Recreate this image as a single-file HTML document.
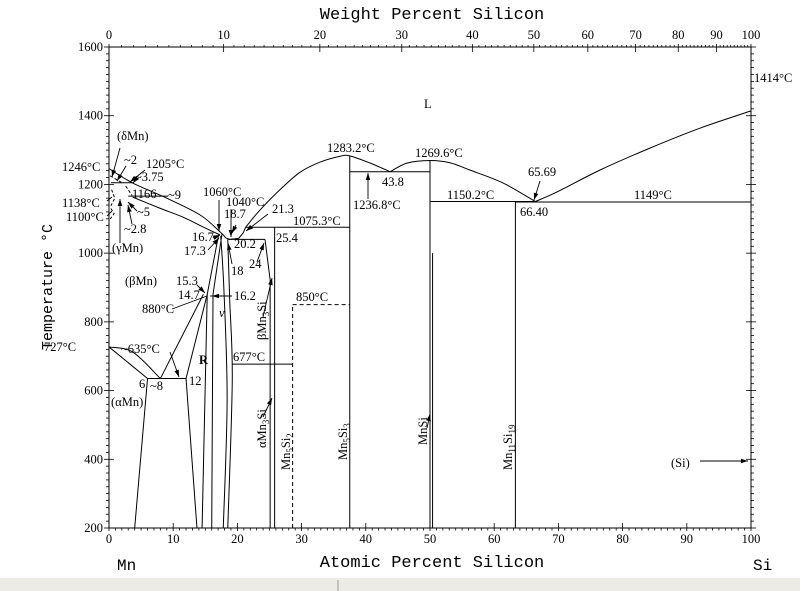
<!DOCTYPE html>
<html><head><meta charset="utf-8"><style>
html,body{margin:0;padding:0;background:#fff;width:800px;height:591px;overflow:hidden}
svg{display:block}
text{font-family:"Liberation Serif",serif;fill:#000}
.t{font-size:12.5px}
.m{font-family:"Liberation Mono",monospace}
</style></head><body>
<svg id="chart" width="800" height="591" viewBox="0 0 800 591" xmlns="http://www.w3.org/2000/svg">
<rect x="0" y="578" width="800" height="13" fill="#ecebe6"/>
<line x1="338" y1="580" x2="338" y2="591" stroke="#999"/>
<g id="axes"></g><g id="curves"></g><g id="notes"></g>
</svg>
<script>
// ---- data (atomic % Si, temperature °C) ----
const xTicks = [0,10,20,30,40,50,60,70,80,90,100];
const wtTicks = [0,10,20,30,40,50,60,70,80,90,100];
const yTicks = [200,400,600,800,1000,1200,1400,1600];
const liquidusLeft = [[0,1246],[3.7,1204],[9,1160],[14.2,1111],[17.3,1062],[18.2,1044],[18.8,1040],[20.2,1043],[20.9,1059],[21.3,1076]];
const liquidusMid = [[21.3,1076],[23.5,1125],[26.6,1184],[29.8,1236],[32.9,1265],[36,1282],[37.5,1283.2],[40.7,1262],[43.8,1236.8],[46.4,1262],[50,1269.6],[53.1,1263],[56.2,1242],[61.4,1204],[66.4,1150.2]];
const liquidusRight = [[66.4,1150.2],[70,1180],[76.5,1242],[84.3,1306],[92.1,1364],[100,1414]];
const solidusLeft = [[3.7,1163],[7.9,1131],[11.5,1105],[15,1073],[17.3,1053]];
const betaLeft1 = [[0,727],[6,635]];
const betaLeft2 = [[0,727],[3.7,712],[8,635]];
const alphaBound = [[6,635],[4,200]];
const rLeft = [[8,635],[14.7,880]];
const rRight = [[12,635],[15.3,880]];
const rLow = [[12,635],[13.7,200]];
const lineB = [[14.5,200],[15.3,880],[17.1,1056]];
const lineC = [[16,200],[16.2,880],[17.6,1056]];
const lineD = [[17.8,200],[18.4,573],[17.9,893],[17.4,1050]];
const lineE = [[18.5,200],[19.2,631],[18.8,864],[18.5,1040]];
const lineF = [[24.3,1040],[25.1,922],[25.1,200]];
const lineG = [[25.8,1075.3],[25.8,200]];
const isotherms = [[0.3,3.75,1205],[3,9.2,1166],[6,12,635],[18.5,24.3,1040],[21.3,37.5,1075.3],[19.2,28.6,677],[37.5,50,1236.8],[50,66.4,1150.2],[63.3,100,1149]];
const compounds = [[37.5,1283.2],[50,1269.6],[50.4,1000],[63.3,1150.2]];
const dashedIso = [[28.6,37.5,850]];
const dashedVert = [[28.6,850]];
const dashedLeft = [[[0.2,1225],[2,1205]],[[0.4,1185],[0.9,1160],[0.3,1138]],[[2.6,1195],[3.6,1168]],[[0.3,1130],[0.8,1115],[0.2,1100]]];

// ---- scales ----
const X0=109,X1=751,Y0=528,Y1=47,T0=200,T1=1600;
function sx(a){return X0+(X1-X0)*a/100;}
function sy(t){return Y0-(Y0-Y1)*(t-T0)/(T1-T0);}
function wt2at(w){const s=w/28.086,m=(100-w)/54.938;return w>=100?100:100*s/(s+m);}
const NS="http://www.w3.org/2000/svg";
function mk(tag,attrs,parent){const e=document.createElementNS(NS,tag);for(const k in attrs)e.setAttribute(k,attrs[k]);parent.appendChild(e);return e;}
const axes=document.getElementById('axes'),curves=document.getElementById('curves'),notes=document.getElementById('notes');

let fr=mk('rect',{x:X0,y:Y1,width:X1-X0,height:Y0-Y1,fill:'none',stroke:'#000','stroke-width':1},axes);


for(let a=0;a<=100;a+=1){const maj=a%10===0;const l=mk('line',{x1:sx(a),x2:sx(a),y1:Y0-(maj?5:0),y2:Y0+(maj?3:2.5),stroke:'#000','stroke-width':0.8},axes);

}
xTicks.forEach(a=>{const t=mk('text',{x:sx(a),y:543,'text-anchor':'middle',class:'t'},axes);t.textContent=a;

});
for(let w=0;w<=100;w+=1){const maj=w%10===0;const l=mk('line',{x1:sx(wt2at(w)),x2:sx(wt2at(w)),y1:Y1-(maj?3:2),y2:Y1+(maj?5:0),stroke:'#000','stroke-width':0.8},axes);

}
wtTicks.forEach(w=>{const t=mk('text',{x:sx(wt2at(w)),y:39,'text-anchor':'middle',class:'t'},axes);t.textContent=w;

});
for(let T=200;T<=1600;T+=20){const maj=T%200===0;
const l=mk('line',{x1:X0-(maj?5:3),x2:X0+(maj?5:0),y1:sy(T),y2:sy(T),stroke:'#000','stroke-width':0.8},axes);


const r=mk('line',{x1:X1-(maj?5:0),x2:X1+(maj?5:3),y1:sy(T),y2:sy(T),stroke:'#000','stroke-width':0.8},axes);

}
yTicks.forEach(T=>{const t=mk('text',{x:X0-6,y:sy(T)+4,'text-anchor':'end',class:'t'},axes);t.textContent=T;

});

function pathD(pts){const P=pts.map(q=>[sx(q[0]),sy(q[1])]);let d='M'+P[0][0]+','+P[0][1];
for(let i=0;i<P.length-1;i++){const p0=P[i-1]||P[i],p1=P[i],p2=P[i+1],p3=P[i+2]||p2;
d+=' C'+(p1[0]+(p2[0]-p0[0])/6)+','+(p1[1]+(p2[1]-p0[1])/6)+' '+(p2[0]-(p3[0]-p1[0])/6)+','+(p2[1]-(p3[1]-p1[1])/6)+' '+p2[0]+','+p2[1];}
return d;}
function smooth(pts,name){const p=mk('path',{d:pathD(pts),fill:'none',stroke:'#000','stroke-width':1},curves);

}
function poly(pts,name,dash){const p=mk('polyline',{points:pts.map(q=>sx(q[0])+','+sy(q[1])).join(' '),fill:'none',stroke:'#000','stroke-width':1,'stroke-dasharray':dash||'none'},curves);

}
smooth(liquidusLeft.slice(0,6),'liquidus-left');poly(liquidusLeft.slice(5),'liquidus-eutectic');
smooth(liquidusMid.slice(0,9),'liquidus-mn5si3');smooth(liquidusMid.slice(8),'liquidus-mnsi');smooth(liquidusRight,'liquidus-right');
smooth(solidusLeft,'solidus-left');poly(betaLeft1,'beta-mn-boundary-1');smooth(betaLeft2,'beta-mn-boundary-2');
poly(alphaBound,'alpha-mn-boundary');poly(rLeft,'r-phase-left');poly(rRight,'r-phase-right');poly(rLow,'r-phase-low');
poly(lineB,'v-phase-left-1');poly(lineC,'v-phase-left-2');smooth(lineD,'v-phase-right-1');smooth(lineE,'v-phase-right-2');
poly(lineF,'mn3si-left');poly(lineG,'mn3si-right');
isotherms.forEach(s=>poly([[s[0],s[2]],[s[1],s[2]]],'isotherm-line'));
compounds.forEach(c=>poly([[c[0],200],[c[0],c[1]]],'compound-line'));
dashedIso.forEach(s=>poly([[s[0],s[2]],[s[1],s[2]]],'dashed-isotherm','4,3'));
dashedVert.forEach(s=>poly([[s[0],200],[s[0],s[1]]],'dashed-compound','4,3'));
dashedLeft.forEach(s=>poly(s,'dashed-boundary','3,2'));

function txt(x,y,s,name,extra){const t=mk('text',Object.assign({x:x,y:y,class:'t'},extra||{}),notes);t.innerHTML=s;

return t;}
function arr(x1,y1,x2,y2,head){const l=mk('line',{x1:x1,y1:y1,x2:x2,y2:y2,stroke:'#000','stroke-width':0.9},notes);


if(head!==false){const a=Math.atan2(y2-y1,x2-x1),L=7,W=2.3;
const p=mk('polygon',{points:[x2,y2,x2-L*Math.cos(a)+W*Math.sin(a),y2-L*Math.sin(a)-W*Math.cos(a),x2-L*Math.cos(a)-W*Math.sin(a),y2-L*Math.sin(a)+W*Math.cos(a)].join(','),fill:'#000'},notes);

}}
txt(432,19,'Weight Percent Silicon','top-axis-title',{'text-anchor':'middle','font-size':'17',class:'m'});
txt(432,567,'Atomic Percent Silicon','x-axis-title',{'text-anchor':'middle','font-size':'17',class:'m'});
txt(117,570,'Mn','mn-label',{'font-size':'16',class:'m'});
txt(753,570,'Si','si-label',{'font-size':'16',class:'m'});
txt(52,287,'Temperature °C','y-axis-title',{'text-anchor':'middle','font-size':'15',class:'m',transform:'rotate(-90 52 287)'});
txt(424,108,'L','liquid-label',{'font-size':'22'});
const labels=[[754,82,'1414°C'],[327,152,'1283.2°C'],[415,157,'1269.6°C'],[382,186,'43.8'],[353,209,'1236.8°C'],[447,199,'1150.2°C'],[528,176,'65.69'],[520,216,'66.40'],[634,199,'1149°C'],
[117,140,'(δMn)'],[62,171,'1246°C'],[124,164,'~2'],[146,168,'1205°C'],[135,181,'~3.75'],[62,207,'1138°C'],[66,221,'1100°C'],[132,198,'1166'],[168,199,'~9'],[137,216,'~5'],[124,233,'~2.8'],[112,252,'(γMn)'],
[203,196,'1060°C'],[226,206,'1040°C'],[224,218,'18.7'],[272,213,'21.3'],[293,225,'1075.3°C'],[276,242,'25.4'],[192,241,'16.7'],[184,255,'17.3'],[234,248,'20.2'],[231,275,'18'],[249,268,'24'],
[125,285,'(βMn)'],[176,285,'15.3'],[178,299,'14.7'],[234,300,'16.2'],[142,313,'880°C'],[296,301,'850°C'],[44,351,'727°C'],[121,353,'~635°C'],[233,361,'677°C'],[139,388,'6'],[150,390,'~8'],[189,385,'12'],[111,406,'(αMn)'],[671,467,'(Si)']];
labels.forEach(l=>txt(l[0],l[1],l[2],'annotation-label'));
txt(219,317,'v','v-phase-label',{'font-style':'italic','font-size':'13'});
txt(199,364,'R','r-phase-label',{'font-size':'13','font-weight':'bold'});
const vlabels=[[266,340,'βMn<tspan dy="3" font-size="9">3</tspan><tspan dy="-3">Si</tspan>'],[266,448,'αMn<tspan dy="3" font-size="9">3</tspan><tspan dy="-3">Si</tspan>'],[290,470,'Mn<tspan dy="3" font-size="9">5</tspan><tspan dy="-3">Si</tspan><tspan dy="3" font-size="9">2</tspan>'],[347,460,'Mn<tspan dy="3" font-size="9">5</tspan><tspan dy="-3">Si</tspan><tspan dy="3" font-size="9">3</tspan>'],[427,445,'MnSi'],[512,470,'Mn<tspan dy="3" font-size="9">11</tspan><tspan dy="-3">Si</tspan><tspan dy="3" font-size="9">19</tspan>']];
vlabels.forEach(v=>txt(v[0],v[1],v[2],'compound-label',{transform:'rotate(-90 '+v[0]+' '+v[1]+')'}));
[[120,148,112,177],[126,166,117,181],[145,170,130,182],[137,178,133,183],[107,201,112,197,false],[107,216,112,211,false],[137,211,128,202],[132,224,128,205],[120,243,120,199],
[219,200,219,231],[231,209,231,237],[236,225,232,233],[268,214,246,231],[213,238,220,235],[208,250,219,238],[232,264,228,243],[257,262,264,243],[197,285,205,293],[210,296,213,296,false],[232,296,212,296],[172,309,207,296,false],[170,352,179,377],[263,317,272,278],[263,417,272,398],[368,199,368,173],[427,428,430,414],[540,181,534,200],[700,461,748,461]].forEach(a=>arr(a[0],a[1],a[2],a[3],a[4]));
</script>
</body></html>
